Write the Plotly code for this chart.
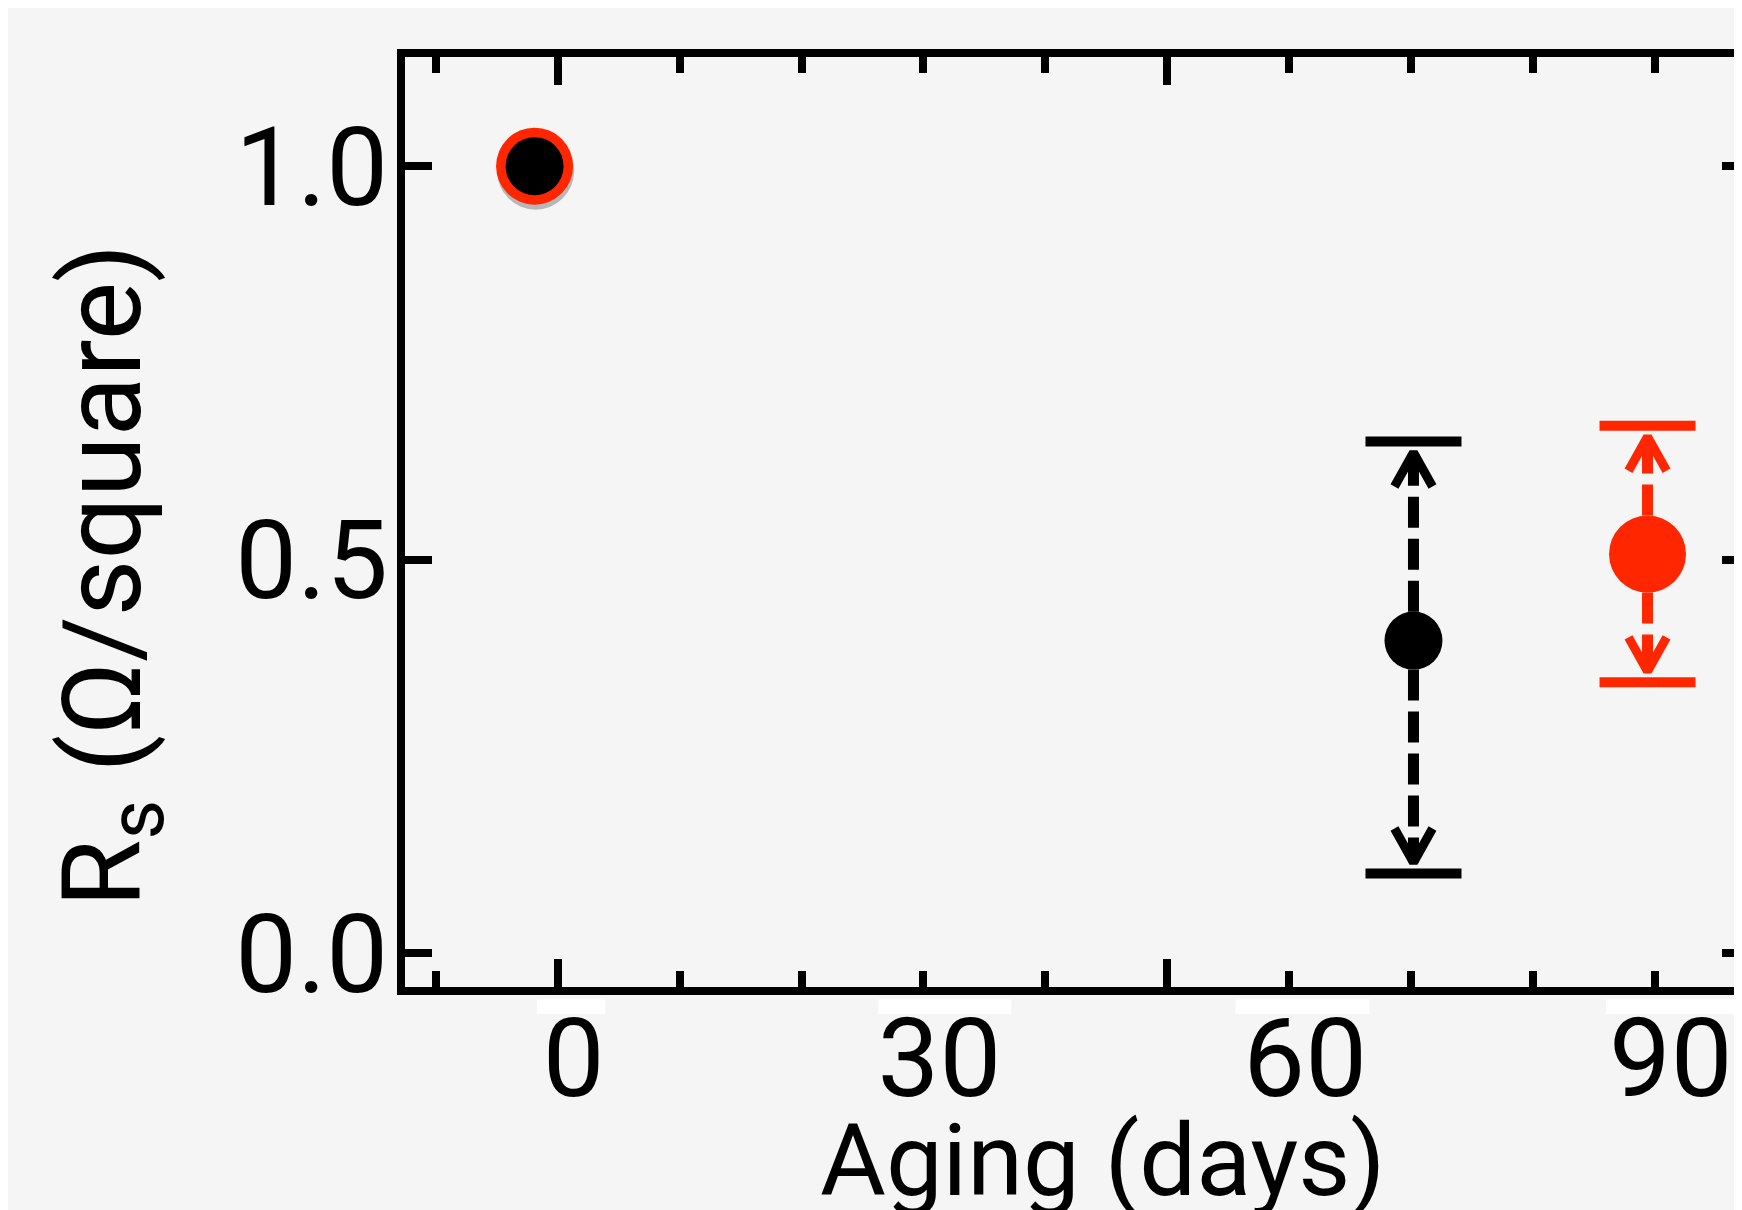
import plotly.graph_objects as go

# ---------------- data ----------------
days_black = [-1.9, 70.2]
rs_black = [1.000, 0.397]
rs_black_hi = [None, 0.650]
rs_black_lo = [None, 0.101]

days_red = [-1.9, 89.4]
rs_red = [1.000, 0.507]
rs_red_hi = [None, 0.670]
rs_red_lo = [None, 0.344]

x_label_vals = [0, 30, 60, 90]
x_label_text = ["0", "30", "60", "90"]
x_long_ticks = [0, 50, 100]
x_minor_step = 10
y_tick_vals = [0.0, 0.5, 1.0]
y_tick_text = ["0.0", "0.5", "1.0"]

# white patches left below the axis (erased old labels), in days
patch_x0 = [-1.7, 26.3, 55.6, 86.0]
patch_x1 = [3.9, 37.2, 66.6, 99.0]

# ---------------- layout / style ----------------
W, H = 1742, 1210
ML, MR, MT, MB = 397, 8, 48.5, 231
XR = [-12.53, 97.15]
YR = [-0.0432, 1.1387]
DX = (XR[1] - XR[0]) / (W - ML - MR)   # days per pixel
DY = (YR[1] - YR[0]) / (H - MT - MB)   # units per pixel

BLACK = "#000000"
RED = "#FF2600"
BG = "#F5F5F5"
SIZE_BLACK = 58
SIZE_RED = 77
FONT = "Roboto"


def error_parts(xs, ys, his, los, color, msize):
    lx, ly, cx, cy, kx, ky = [], [], [], [], [], []
    r = msize / 2 * DY
    for x, y, hi, lo in zip(xs, ys, his, los):
        if hi is None or lo is None:
            continue
        t_hi = hi - 11 * DY
        t_lo = lo + 11 * DY
        lx += [x, x, None, x, x, None]
        ly += [y + r, t_hi, None, y - r, t_lo, None]
        cx += [x - 19 * DX, x, x + 19 * DX, None, x - 19 * DX, x, x + 19 * DX, None]
        cy += [t_hi - 34 * DY, t_hi, t_hi - 34 * DY, None,
               t_lo + 34 * DY, t_lo, t_lo + 34 * DY, None]
        kx += [x, x]
        ky += [hi, lo]
    return [
        go.Scatter(x=lx, y=ly, mode="lines", hoverinfo="skip",
                   line=dict(color=color, width=11, dash="31px,11px")),
        go.Scatter(x=cx, y=cy, mode="lines", hoverinfo="skip",
                   line=dict(color=color, width=9)),
        go.Scatter(x=kx, y=ky, mode="markers", hoverinfo="skip",
                   marker=dict(symbol="line-ew", size=96 / 1.4,
                               line=dict(color=color, width=10))),
    ]


fig = go.Figure()

# soft shadow under the first point
fig.add_trace(go.Scatter(x=[days_red[0] + 1 * DX], y=[rs_red[0] - 5 * DY], mode="markers",
                         hoverinfo="skip",
                         marker=dict(size=SIZE_RED, color="rgba(0,0,0,0.25)", line=dict(width=0))))

for tr in error_parts(days_black, rs_black, rs_black_hi, rs_black_lo, BLACK, SIZE_BLACK):
    fig.add_trace(tr)
for tr in error_parts(days_red, rs_red, rs_red_hi, rs_red_lo, RED, SIZE_RED):
    fig.add_trace(tr)

fig.add_trace(go.Scatter(x=days_red, y=rs_red, mode="markers", name="red",
                         marker=dict(size=SIZE_RED, color=RED, line=dict(width=0))))
fig.add_trace(go.Scatter(x=days_black, y=rs_black, mode="markers", name="black",
                         xaxis="x2", yaxis="y2",
                         marker=dict(size=SIZE_BLACK, color=BLACK, line=dict(width=0))))

for a, b in zip(patch_x0, patch_x1):
    fig.add_shape(type="rect", xref="x", yref="paper", x0=a, x1=b, y0=-0.029, y1=-0.0135,
                  fillcolor="#FFFFFF", line=dict(width=0), layer="above")

tickfont = dict(family=FONT, size=110, color=BLACK)

fig.update_layout(
    width=W, height=H,
    margin=dict(l=ML, r=MR, t=MT, b=MB, pad=0),
    paper_bgcolor=BG, plot_bgcolor=BG,
    showlegend=False,
    font=dict(family=FONT, color=BLACK),
    xaxis=dict(range=XR, showgrid=False, zeroline=False,
               showline=True, linewidth=8, linecolor=BLACK, mirror="ticks",
               ticks="inside", tickmode="array", tickvals=x_long_ticks,
               ticklen=28, tickwidth=8, tickcolor=BLACK, showticklabels=False,
               minor=dict(tickmode="linear", tick0=0, dtick=x_minor_step, ticks="inside",
                          ticklen=16, tickwidth=8, tickcolor=BLACK, showgrid=False)),
    xaxis2=dict(range=XR, overlaying="x", anchor="y2", side="bottom",
                showgrid=False, zeroline=False, showline=False, ticks="",
                tickmode="array", tickvals=x_label_vals, ticktext=x_label_text,
                tickfont=tickfont, ticklabelshift=16, ticklabelstandoff=-2),
    yaxis=dict(range=YR, showgrid=False, zeroline=False,
               showline=True, linewidth=8, linecolor=BLACK, mirror=False,
               ticks="inside", tickmode="array", tickvals=y_tick_vals, ticktext=y_tick_text,
               ticklen=27, tickwidth=8, tickcolor=BLACK, tickfont=tickfont,
               ticklabelstandoff=-13),
    yaxis2=dict(range=YR, overlaying="y", anchor="x2", side="right",
                showgrid=False, zeroline=False, showline=False,
                ticks="inside", tickmode="array", tickvals=y_tick_vals,
                ticklen=20, tickwidth=8, tickcolor=BLACK, showticklabels=False),
)

fig.add_annotation(text="R<sub>s</sub> (Ω/square)", xref="paper", yref="paper",
                   x=-0.2206, y=0.4427, xanchor="center", yanchor="middle",
                   textangle=-90, showarrow=False,
                   font=dict(family=FONT, size=110, color=BLACK))
fig.add_annotation(text="Aging (days)", xref="paper", yref="paper",
                   x=0.522, y=-0.187, xanchor="center", yanchor="middle",
                   showarrow=False, font=dict(family=FONT, size=101, color=BLACK))

fig.write_html("out.html")
